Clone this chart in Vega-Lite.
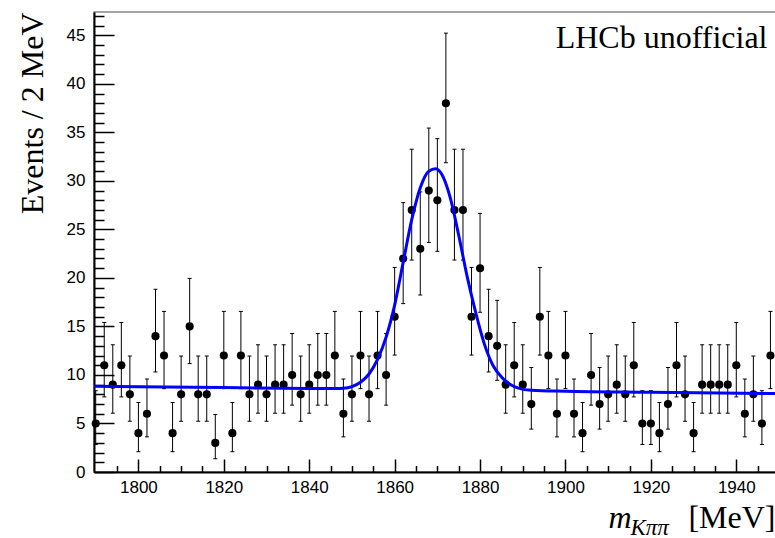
{
  "$schema": "https://vega.github.io/schema/vega-lite/v6.json",
  "width": 682,
  "height": 460,
  "autosize": {"type": "none"},
  "padding": {"left": 94, "top": 12, "right": 0, "bottom": 66},
  "background": "white",
  "config": {"view": {"stroke": "#888888", "strokeWidth": 1.5}, "axis": {"grid": false}},
  "datasets": {
    "hist": [
      {"m":1790,"n":5,"lo":2.84,"hi":8.38},{"m":1792,"n":11,"lo":7.74,"hi":15.41},{"m":1794,"n":9,"lo":6.06,"hi":13.11},{"m":1796,"n":11,"lo":7.74,"hi":15.41},{"m":1798,"n":8,"lo":5.23,"hi":11.95},
      {"m":1800,"n":4,"lo":2.09,"hi":7.16},{"m":1802,"n":6,"lo":3.62,"hi":9.58},{"m":1804,"n":14,"lo":10.31,"hi":18.83},{"m":1806,"n":12,"lo":8.59,"hi":16.55},{"m":1808,"n":4,"lo":2.09,"hi":7.16},
      {"m":1810,"n":8,"lo":5.23,"hi":11.95},{"m":1812,"n":15,"lo":11.17,"hi":19.95},{"m":1814,"n":8,"lo":5.23,"hi":11.95},{"m":1816,"n":8,"lo":5.23,"hi":11.95},{"m":1818,"n":3,"lo":1.37,"hi":5.92},
      {"m":1820,"n":12,"lo":8.59,"hi":16.55},{"m":1822,"n":4,"lo":2.09,"hi":7.16},{"m":1824,"n":12,"lo":8.59,"hi":16.55},{"m":1826,"n":8,"lo":5.23,"hi":11.95},{"m":1828,"n":9,"lo":6.06,"hi":13.11},
      {"m":1830,"n":8,"lo":5.23,"hi":11.95},{"m":1832,"n":9,"lo":6.06,"hi":13.11},{"m":1834,"n":9,"lo":6.06,"hi":13.11},{"m":1836,"n":10,"lo":6.89,"hi":14.27},{"m":1838,"n":8,"lo":5.23,"hi":11.95},
      {"m":1840,"n":9,"lo":6.06,"hi":13.11},{"m":1842,"n":10,"lo":6.89,"hi":14.27},{"m":1844,"n":10,"lo":6.89,"hi":14.27},{"m":1846,"n":12,"lo":8.59,"hi":16.55},{"m":1848,"n":6,"lo":3.62,"hi":9.58},
      {"m":1850,"n":8,"lo":5.23,"hi":11.95},{"m":1852,"n":12,"lo":8.59,"hi":16.55},{"m":1854,"n":8,"lo":5.23,"hi":11.95},{"m":1856,"n":12,"lo":8.59,"hi":16.55},{"m":1858,"n":10,"lo":6.89,"hi":14.27},
      {"m":1860,"n":16,"lo":12.05,"hi":21.08},{"m":1862,"n":22,"lo":17.35,"hi":27.76},{"m":1864,"n":27,"lo":21.84,"hi":33.26},{"m":1866,"n":23,"lo":18.24,"hi":28.86},{"m":1868,"n":29,"lo":23.65,"hi":35.44},
      {"m":1870,"n":28,"lo":22.74,"hi":34.35},{"m":1872,"n":38,"lo":31.87,"hi":45.22},{"m":1874,"n":27,"lo":21.84,"hi":33.26},{"m":1876,"n":27,"lo":21.84,"hi":33.26},{"m":1878,"n":16,"lo":12.05,"hi":21.08},
      {"m":1880,"n":21,"lo":16.46,"hi":26.65},{"m":1882,"n":14,"lo":10.31,"hi":18.83},{"m":1884,"n":13,"lo":9.45,"hi":17.69},{"m":1886,"n":9,"lo":6.06,"hi":13.11},{"m":1888,"n":11,"lo":7.74,"hi":15.41},
      {"m":1890,"n":9,"lo":6.06,"hi":13.11},{"m":1892,"n":7,"lo":4.42,"hi":10.77},{"m":1894,"n":16,"lo":12.05,"hi":21.08},{"m":1896,"n":12,"lo":8.59,"hi":16.55},{"m":1898,"n":6,"lo":3.62,"hi":9.58},
      {"m":1900,"n":12,"lo":8.59,"hi":16.55},{"m":1902,"n":6,"lo":3.62,"hi":9.58},{"m":1904,"n":4,"lo":2.09,"hi":7.16},{"m":1906,"n":10,"lo":6.89,"hi":14.27},{"m":1908,"n":7,"lo":4.42,"hi":10.77},
      {"m":1910,"n":8,"lo":5.23,"hi":11.95},{"m":1912,"n":9,"lo":6.06,"hi":13.11},{"m":1914,"n":8,"lo":5.23,"hi":11.95},{"m":1916,"n":11,"lo":7.74,"hi":15.41},{"m":1918,"n":5,"lo":2.84,"hi":8.38},
      {"m":1920,"n":5,"lo":2.84,"hi":8.38},{"m":1922,"n":4,"lo":2.09,"hi":7.16},{"m":1924,"n":7,"lo":4.42,"hi":10.77},{"m":1926,"n":11,"lo":7.74,"hi":15.41},{"m":1928,"n":8,"lo":5.23,"hi":11.95},
      {"m":1930,"n":4,"lo":2.09,"hi":7.16},{"m":1932,"n":9,"lo":6.06,"hi":13.11},{"m":1934,"n":9,"lo":6.06,"hi":13.11},{"m":1936,"n":9,"lo":6.06,"hi":13.11},{"m":1938,"n":9,"lo":6.06,"hi":13.11},
      {"m":1940,"n":11,"lo":7.74,"hi":15.41},{"m":1942,"n":6,"lo":3.62,"hi":9.58},{"m":1944,"n":8,"lo":5.23,"hi":11.95},{"m":1946,"n":5,"lo":2.84,"hi":8.38},{"m":1948,"n":12,"lo":8.59,"hi":16.55}
    ],
    "fit": [
      {"m":1789.6,"f":8.84},{"m":1800,"f":8.79},{"m":1820,"f":8.70},{"m":1840,"f":8.61},{"m":1846,"f":8.60},{"m":1848,"f":8.63},
      {"m":1850,"f":8.80},{"m":1852,"f":9.25},{"m":1854,"f":10.1},{"m":1856,"f":11.6},{"m":1858,"f":13.9},{"m":1860,"f":17.2},
      {"m":1862,"f":21.6},{"m":1864,"f":26.0},{"m":1866,"f":29.3},{"m":1868,"f":31.0},{"m":1869.6,"f":31.25},{"m":1871,"f":30.7},
      {"m":1873,"f":28.3},{"m":1875,"f":24.4},{"m":1877,"f":20.1},{"m":1879,"f":16.4},{"m":1881,"f":13.2},{"m":1883,"f":11.0},
      {"m":1885,"f":9.8},{"m":1887,"f":9.05},{"m":1889,"f":8.65},{"m":1892,"f":8.42},{"m":1900,"f":8.32},{"m":1920,"f":8.22},{"m":1949.3,"f":8.08}
    ]
  },
  "resolve": {"axis": {"x": "independent", "y": "independent"}},
  "layer": [
    {
      "data": {"name": "hist"},
      "mark": {"type": "rule", "color": "black", "strokeWidth": 1},
      "encoding": {
        "x": {"field": "m", "type": "quantitative", "scale": {"domain": [1789.6, 1949.3], "nice": false, "zero": false},
          "axis": {"orient": "bottom", "values": [1800,1820,1840,1860,1880,1900,1920,1940], "format": "d", "tickSize": -13, "tickWidth": 1.5, "tickColor": "black", "domainColor": "black", "domainWidth": 2, "labelFont": "Liberation Sans", "labelFontSize": 17, "labelColor": "black", "labelPadding": 20, "labelFlush": false, "labelOverlap": false,
            "title": "[MeV]", "titleFont": "Liberation Serif", "titleFontSize": 32, "titleFontWeight": "normal", "titleColor": "black", "titleX": 681, "titleY": 55.5, "titleAlign": "right", "titleBaseline": "alphabetic"}},
        "y": {"field": "lo", "type": "quantitative", "scale": {"domain": [0, 47.4], "nice": false, "zero": true},
          "axis": {"orient": "left", "values": [0,5,10,15,20,25,30,35,40,45], "tickSize": -20, "tickWidth": 1.5, "tickColor": "black", "domainColor": "black", "domainWidth": 2, "labelFont": "Liberation Sans", "labelFontSize": 17, "labelColor": "black", "labelPadding": 29, "labelFlush": false, "labelOverlap": false,
            "title": "Events / 2 MeV", "titleFont": "Liberation Serif", "titleFontSize": 32, "titleFontWeight": "normal", "titleColor": "black", "titleAngle": 270, "titleX": -52, "titleY": 0, "titleAlign": "right", "titleBaseline": "alphabetic"}},
        "y2": {"field": "hi"}
      }
    },
    {
      "data": {"name": "hist"},
      "mark": {"type": "tick", "orient": "horizontal", "size": 4, "thickness": 1, "color": "black", "opacity": 1},
      "encoding": {
        "x": {"field": "m", "type": "quantitative", "scale": {"domain": [1789.6, 1949.3], "nice": false, "zero": false},
          "axis": {"orient": "bottom", "values": [1795,1805,1810,1815,1825,1830,1835,1845,1850,1855,1865,1870,1875,1885,1890,1895,1905,1910,1915,1925,1930,1935,1945], "tickSize": -6.5, "tickWidth": 1.5, "tickColor": "black", "labels": false, "domain": false,
            "title": "m", "titleFont": "Liberation Serif", "titleFontStyle": "italic", "titleFontSize": 32, "titleFontWeight": "normal", "titleColor": "black", "titleX": 514, "titleY": 55.5, "titleAlign": "left", "titleBaseline": "alphabetic"}},
        "y": {"field": "lo", "type": "quantitative", "scale": {"domain": [0, 47.4], "nice": false},
          "axis": {"orient": "left", "values": [1,2,3,4,6,7,8,9,11,12,13,14,16,17,18,19,21,22,23,24,26,27,28,29,31,32,33,34,36,37,38,39,41,42,43,44,46,47], "tickSize": -10, "tickWidth": 1.5, "tickColor": "black", "labels": false, "domain": false, "title": null}}
      }
    },
    {
      "data": {"name": "hist"},
      "mark": {"type": "tick", "orient": "horizontal", "size": 4, "thickness": 1, "color": "black", "opacity": 1},
      "encoding": {
        "x": {"field": "m", "type": "quantitative", "scale": {"domain": [1789.6, 1949.3], "nice": false, "zero": false},
          "axis": {"orient": "bottom", "ticks": false, "labels": false, "domain": false,
            "title": "Kππ", "titleFont": "Liberation Serif", "titleFontStyle": "italic", "titleFontSize": 23, "titleFontWeight": "normal", "titleColor": "black", "titleX": 536, "titleY": 62, "titleAlign": "left", "titleBaseline": "alphabetic"}},
        "y": {"field": "hi", "type": "quantitative", "scale": {"domain": [0, 47.4], "nice": false},
          "axis": {"orient": "left", "ticks": false, "labels": false, "domain": false,
            "title": "LHCb unofficial", "titleFont": "Liberation Serif", "titleFontSize": 32, "titleFontWeight": "normal", "titleColor": "black", "titleAngle": 0, "titleX": 673, "titleY": 35, "titleAlign": "right", "titleBaseline": "alphabetic"}}
      }
    },
    {
      "data": {"name": "hist"},
      "mark": {"type": "circle", "size": 66, "color": "black", "opacity": 1},
      "encoding": {
        "x": {"field": "m", "type": "quantitative", "scale": {"domain": [1789.6, 1949.3], "nice": false, "zero": false}, "axis": null},
        "y": {"field": "n", "type": "quantitative", "scale": {"domain": [0, 47.4], "nice": false}, "axis": null}
      }
    },
    {
      "data": {"name": "fit"},
      "mark": {"type": "line", "color": "#0000ff", "strokeWidth": 3, "interpolate": "monotone"},
      "encoding": {
        "x": {"field": "m", "type": "quantitative", "scale": {"domain": [1789.6, 1949.3], "nice": false, "zero": false}, "axis": null},
        "y": {"field": "f", "type": "quantitative", "scale": {"domain": [0, 47.4], "nice": false}, "axis": null}
      }
    }
  ]
}
